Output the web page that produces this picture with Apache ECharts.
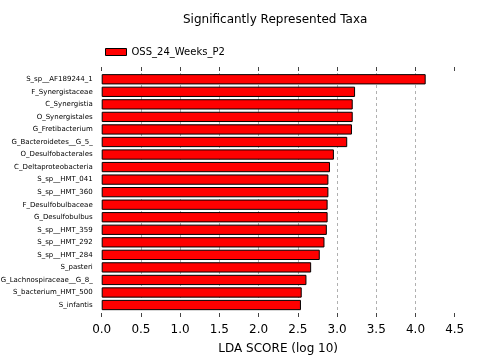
<!DOCTYPE html>
<html><head><meta charset="utf-8">
<script src="https://cdn.jsdelivr.net/npm/echarts@6/dist/echarts.min.js"></script>
<style>html,body{margin:0;padding:0;background:#fff}#c{width:504px;height:363px}</style>
</head><body><div id="c"></div>
<script>
const categories = ["S_sp__AF189244_1","F_Synergistaceae","C_Synergistia","O_Synergistales","G_Fretibacterium","G_Bacteroidetes__G_5_","O_Desulfobacterales","C_Deltaproteobacteria","S_sp__HMT_041","S_sp__HMT_360","F_Desulfobulbaceae","G_Desulfobulbus","S_sp__HMT_359","S_sp__HMT_292","S_sp__HMT_284","S_pasteri","G_Lachnospiraceae__G_8_","S_bacterium_HMT_500","S_infantis"];
const ldaScores = [4.13,3.23,3.20,3.20,3.19,3.13,2.96,2.91,2.89,2.89,2.88,2.88,2.87,2.84,2.78,2.67,2.61,2.55,2.54];
const seriesName = "OSS_24_Weeks_P2";
const xMin = 0, xMax = 4.5, xStep = 0.5;

const font = "DejaVu Sans";
const chart = echarts.init(document.getElementById('c'), null, {renderer:'canvas'});
chart.setOption({
  animation:false,
  title:{text:"Significantly Represented Taxa",left:183,top:14,padding:0,
    textStyle:{fontFamily:font,fontSize:12,fontWeight:'normal',color:'#000'}},
  legend:{left:105,top:47,padding:0,itemWidth:21,itemHeight:7,itemGap:8,icon:'rect',
    textStyle:{fontFamily:font,fontSize:10,color:'#000'},
    data:[{name:seriesName,icon:'rect',itemStyle:{color:'#ff0000',borderColor:'#000',borderWidth:1}}]},
  grid:[
    {left:101.7,right:49.3,top:73,bottom:51.7,containLabel:false,outerBoundsMode:'none'},
    {left:101.7,right:49.3,top:67,bottom:46,containLabel:false,outerBoundsMode:'none'}
  ],
  xAxis:[
    {gridIndex:0,type:'value',min:xMin,max:xMax,interval:xStep,show:false},
    {gridIndex:1,type:'value',min:xMin,max:xMax,interval:xStep,position:'bottom',
      name:"LDA SCORE (log 10)",nameLocation:'middle',nameGap:26,
      nameTextStyle:{fontFamily:font,fontSize:12,color:'#000'},
      axisLine:{show:false},
      axisTick:{show:true,inside:true,length:4,lineStyle:{color:'#444'}},
      axisLabel:{fontFamily:font,fontSize:12,color:'#000',margin:7,formatter:v=>v.toFixed(1)},
      splitLine:{show:true,showMinLine:false,showMaxLine:false,lineStyle:{color:'#b0b0b0',type:[3,3],width:1}}},
    {gridIndex:1,type:'value',min:xMin,max:xMax,interval:xStep,position:'top',
      axisLine:{show:false},
      axisTick:{show:true,inside:true,length:4,lineStyle:{color:'#444'}},
      axisLabel:{show:false},splitLine:{show:false}}
  ],
  yAxis:[
    {gridIndex:0,type:'category',data:categories,inverse:true,
      axisLine:{show:false},axisTick:{show:false},
      axisLabel:{fontFamily:font,fontSize:7,color:'#000',margin:9}},
    {gridIndex:1,type:'value',show:false}
  ],
  series:[{name:seriesName,type:'bar',xAxisIndex:0,yAxisIndex:0,data:ldaScores,
    barCategoryGap:'18%',
    itemStyle:{color:'#ff0000',borderColor:'#000',borderWidth:1,borderRadius:0}}]
});
</script></body></html>
